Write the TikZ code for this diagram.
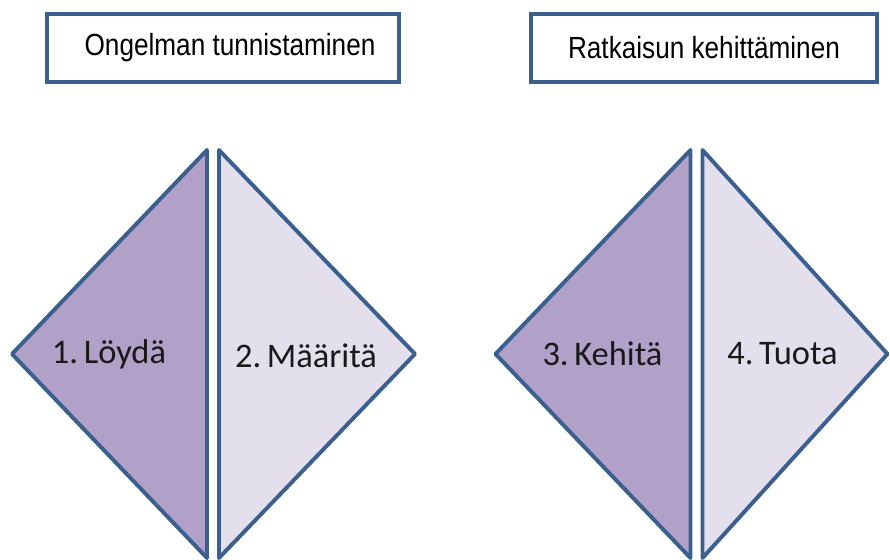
\documentclass[tikz,border=0pt]{standalone}
\usepackage{fontspec}
\usepackage{graphicx}
\usepackage{tikz}
\newfontfamily\boxfont{Liberation Sans}
\newfontfamily\trifont{Carlito}
\definecolor{edgeblue}{RGB}{59,96,143}
\definecolor{darklilac}{RGB}{177,160,199}
\definecolor{palelilac}{RGB}{228,223,236}
\newcommand\tallText[1]{\scalebox{1}[1.17]{#1}}

\begin{document}
\begin{tikzpicture}[x=0.025cm,y=-0.025cm,
  phasebox/.style={draw=edgeblue,line width=2.6pt,fill=white,inner sep=0pt,
    minimum height=1.7cm,font=\boxfont\fontsize{18.6}{22}\selectfont},
  halftri/.style={draw=edgeblue,line width=2.8pt,line join=round},
  vaihe/.style={font=\trifont\fontsize{24.5}{28}\selectfont,text=black!90}]
  % Constants
  \pgfmathsetmacro\top{150}
  \pgfmathsetmacro\bot{558}
  \pgfmathsetmacro\mid{354}
  % Boundary
  \path[use as bounding box] (0,0) rectangle (890,560);
  % Phase boxes
  \node[phasebox,minimum width=8.8cm] (tunnistus) at (223,48) {\hspace{10pt}\tallText{Ongelman tunnistaminen}};
  \node[phasebox,minimum width=8.65cm] (kehitys) at (704,48) {\tallText{Ratkaisun kehitt\"aminen}};
  % First pair
  \begin{scope}[shift={(213,0)}]
    \filldraw[halftri,fill=darklilac] (-6,\top) -- (-6,\bot) -- (-201,\mid) -- cycle;
    \filldraw[halftri,fill=palelilac] (6,\top) -- (6,\bot) -- (202,\mid) -- cycle;
    \node[vaihe] (loyda) at (-104,354) {1.\,L\"oyd\"a};
    \node[vaihe] (maarita) at (93,356) {2.\,M\"a\"arit\"a};
  \end{scope}
  % Second pair
  \begin{scope}[shift={(696.5,0)}]
    \filldraw[halftri,fill=darklilac] (-6,\top) -- (-6,\bot) -- (-201,\mid) -- cycle;
    \filldraw[halftri,fill=palelilac] (6,\top) -- (6,\bot) -- (191,\mid) -- cycle;
    \node[vaihe] (kehita) at (-94,354) {3.\,Kehit\"a};
    \node[vaihe] (tuota) at (86,354) {4.\,Tuota};
  \end{scope}
\end{tikzpicture}
\end{document}
